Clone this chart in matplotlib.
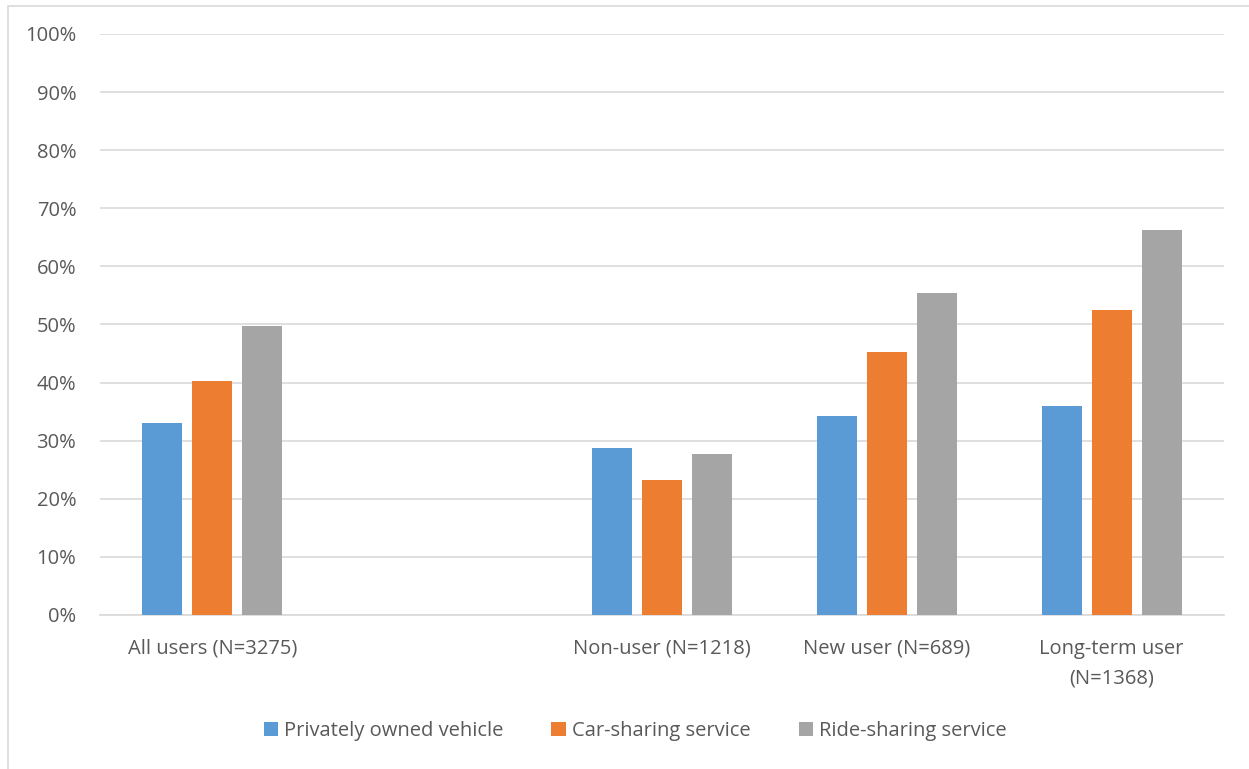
import matplotlib.pyplot as plt
import numpy as np
from matplotlib.patches import Rectangle
from matplotlib.ticker import PercentFormatter

plt.rcParams['font.family'] = ['Open Sans', 'DejaVu Sans']

# user groups (the empty slot keeps a gap after "All users")
categories = ['All users (N=3275)', '', 'Non-user (N=1218)', 'New user (N=689)',
              'Long-term user\n(N=1368)']
private_vehicle = [33.0, None, 28.8, 34.2, 35.9]
car_sharing = [40.2, None, 23.2, 45.3, 52.5]
ride_sharing = [49.8, None, 27.7, 55.4, 66.3]
series_names = ['Privately owned vehicle', 'Car-sharing service', 'Ride-sharing service']
colors = ['#5B9BD5', '#ED7D31', '#A5A5A5']
yticks = list(range(0, 101, 10))

fig = plt.figure(figsize=(12.49, 7.69), dpi=100)
ax = fig.add_axes([0.080, 0.2003, 0.900, 0.7555])

# thin frame around the chart area
fig.patches.append(Rectangle((8 / 1249, -0.01), 1.02, 1 - 6 / 769 + 0.01,
                             transform=fig.transFigure, fill=False,
                             edgecolor='#D9D9D9', linewidth=1.2))

x = np.arange(len(categories))
width = 0.178
offset = 0.222
for i, (vals, name, col) in enumerate(zip([private_vehicle, car_sharing, ride_sharing],
                                          series_names, colors)):
    xs = [xi + (i - 1) * offset for xi, v in zip(x, vals) if v is not None]
    ys = [v for v in vals if v is not None]
    ax.bar(xs, ys, width=width, color=col, label=name, zorder=3)

ax.set_xlim(-0.5, len(categories) - 0.5)
ax.set_ylim(0, 100)
ax.set_yticks(yticks)
ax.yaxis.set_major_formatter(PercentFormatter(decimals=0))
ax.set_xticks(x)
ax.set_xticklabels(categories, linespacing=1.65, va='top')
ax.grid(axis='y', color='#D9D9D9', linewidth=1.2, zorder=0)
for s in ['top', 'right', 'left']:
    ax.spines[s].set_visible(False)
ax.spines['bottom'].set_color('#D9D9D9')
ax.spines['bottom'].set_linewidth(1.2)
ax.tick_params(axis='both', length=0, labelsize=14.5, colors='#595959')
ax.tick_params(axis='x', pad=17)
ax.tick_params(axis='y', pad=17)

ax.legend(loc='center', bbox_to_anchor=(635 / 1249, 1 - 731 / 769),
          bbox_transform=fig.transFigure, ncol=3, frameon=False,
          fontsize=14.5, labelcolor='#595959', handlelength=0.7,
          handleheight=0.7, handletextpad=0.3, columnspacing=2.4)

fig.savefig('out.png', dpi=100)
